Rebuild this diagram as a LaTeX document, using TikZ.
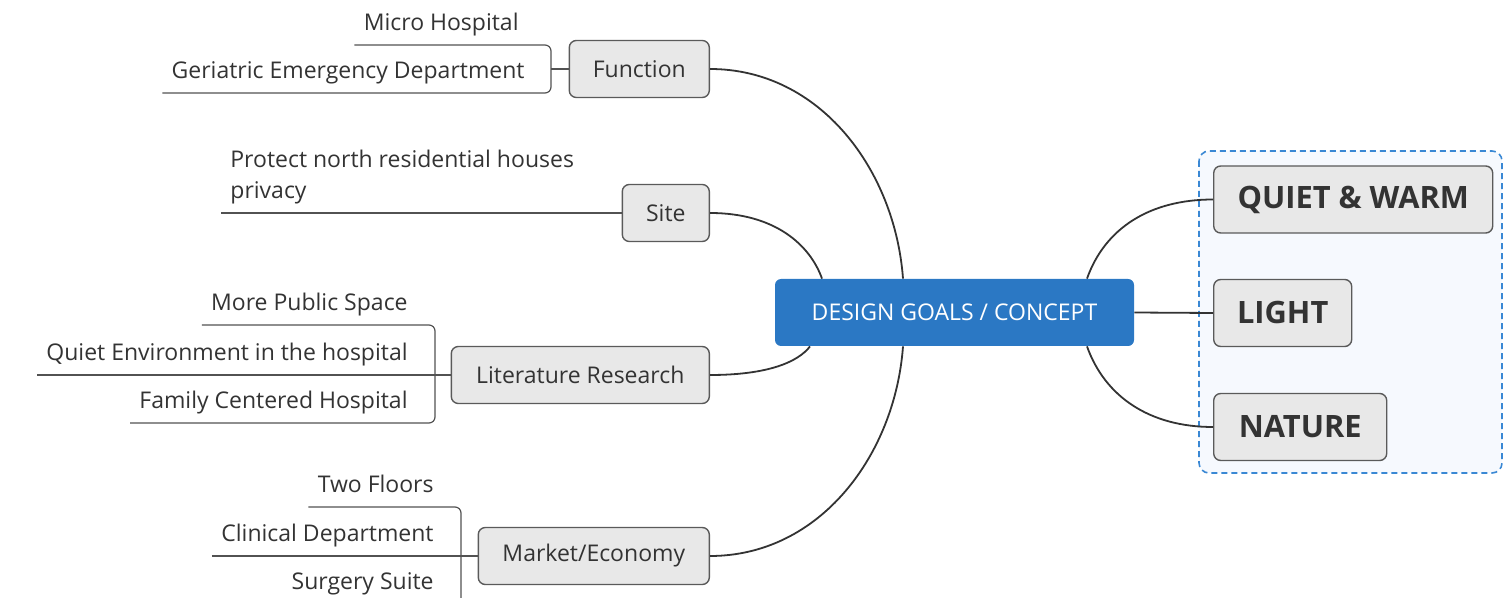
\documentclass[tikz,border=0pt]{standalone}
\usepackage{fontspec}
\setmainfont{Open Sans}
\usepackage{tikz}
\usetikzlibrary{calc,shapes,arrows,positioning}

\definecolor{goalblue}{HTML}{2B78C4}
\definecolor{grpline}{HTML}{3A88D4}
\definecolor{grpfill}{HTML}{F6F9FE}
\definecolor{boxfill}{HTML}{E8E8E8}
\definecolor{boxline}{HTML}{5A5A5A}
\definecolor{ink}{HTML}{333333}

\tikzset{
  topic/.style={draw=boxline, fill=boxfill, rounded corners=3.5pt, line width=0.7pt,
    anchor=east, minimum height=28.5pt, text=ink, font=\fontsize{11.5}{13}\selectfont},
  goalbox/.style={fill=goalblue, rounded corners=3pt, minimum width=179.5pt,
    minimum height=33.5pt, text=white, font=\fontsize{11.5}{13}\selectfont},
  keyword/.style={draw=boxline, fill=boxfill, rounded corners=3.5pt, line width=0.7pt,
    anchor=west, minimum height=33.5pt, text=ink, font=\fontsize{15.4}{17}\selectfont\bfseries},
  leaf/.style={anchor=south east, inner xsep=4.5pt, inner ysep=0pt, text height=8pt,
    text depth=7pt, text=ink, font=\fontsize{11.5}{13}\selectfont},
  branch/.style={draw=ink, line width=0.9pt},
  leafline/.style={draw=ink!85, line width=0.6pt, rounded corners=3pt}
}

\begin{document}
\begin{tikzpicture}[x=0.5pt, y=-0.5pt]
    \clip (0,0) rectangle (1503,598);

    % group around the keywords
    \draw[draw=grpline, fill=grpfill, line width=0.8pt, dash pattern=on 3pt off 2pt,
        rounded corners=5pt] (1199,151) rectangle (1502,473);

    \node[goalbox] (goal) at (954.5,312.5) {DESIGN GOALS / CONCEPT};

    \node[topic, minimum width=70pt]    (function) at (710,69)  {Function};
    \node[topic, minimum width=43.5pt]  (site)     at (710,213) {Site};
    \node[topic, minimum width=129pt]   (lit)      at (710,375) {Literature Research};
    \node[topic, minimum width=115.5pt] (market)   at (710,556) {Market/Economy};

    \foreach \name/\txt/\y/\w in {quiet/QUIET \& WARM/199.5/139.5, light/LIGHT/313/69, nature/NATURE/427/86.5}
        \node[keyword, minimum width=\w pt] (\name) at (1213,\y) {\txt};

    % leaves
    \node[leaf] (micro)    at (528,45)  {Micro Hospital};
    \node[leaf] (ged)      at (534,93)  {Geriatric Emergency Department};
    \node[leaf, anchor=south west, align=left, font=\fontsize{11.5}{15.5}\selectfont]
        (protect) at (221,213) {Protect north residential houses\\privacy};
    \node[leaf] (more)     at (417,325) {More Public Space};
    \node[leaf] (quietenv) at (417,375) {Quiet Environment in the hospital};
    \node[leaf] (family)   at (417,423) {Family Centered Hospital};
    \node[leaf] (floors)   at (443,507) {Two Floors};
    \node[leaf] (clinical) at (443,556) {Clinical Department};
    \node[leaf] (surgery)  at (443,604) {Surgery Suite};

    \coordinate (fn-br) at (551,69);
    \coordinate (lit-br) at (435,375);
    \coordinate (mk-br) at (461,556);

    \draw[leafline] (micro.south west) -| (fn-br) |- (ged.south west);
    \draw[leafline] (fn-br) -- (function.west);
    \draw[leafline] (protect.south west) -- (site.west);
    \draw[leafline] (more.south west) -| (lit-br) |- (family.south west);
    \draw[leafline] (quietenv.south west) -- (lit.west);
    \draw[leafline] (floors.south west) -| (mk-br) |- (surgery.south west);
    \draw[leafline] (clinical.south west) -- (market.west);

    % main branches
    \coordinate (g-fn) at ($(goal.north)+(-51.5,0)$);
    \coordinate (g-si) at ($(goal.north)+(-132.5,0)$);
    \coordinate (g-li) at ($(goal.south)+(-144.5,0)$);
    \coordinate (g-mk) at ($(goal.south)+(-51.5,0)$);
    \coordinate (g-qu) at ($(goal.north)+(132.5,0)$);
    \coordinate (g-na) at ($(goal.south)+(132.5,0)$);

    \draw[branch] (function.east) .. controls (820,69) and (895,170) .. (g-fn);
    \draw[branch] (site.east) .. controls (775,213) and (810,245) .. (g-si);
    \draw[branch] (lit.east) .. controls (768,375) and (798,362) .. (g-li);
    \draw[branch] (market.east) .. controls (820,556) and (895,455) .. (g-mk);
    \draw[branch] (g-qu) .. controls (1105,228) and (1150,199.5) .. (quiet.west);
    \draw[branch] (goal.east) -- (light.west);
    \draw[branch] (g-na) .. controls (1105,397) and (1150,427) .. (nature.west);
\end{tikzpicture}
\end{document}
